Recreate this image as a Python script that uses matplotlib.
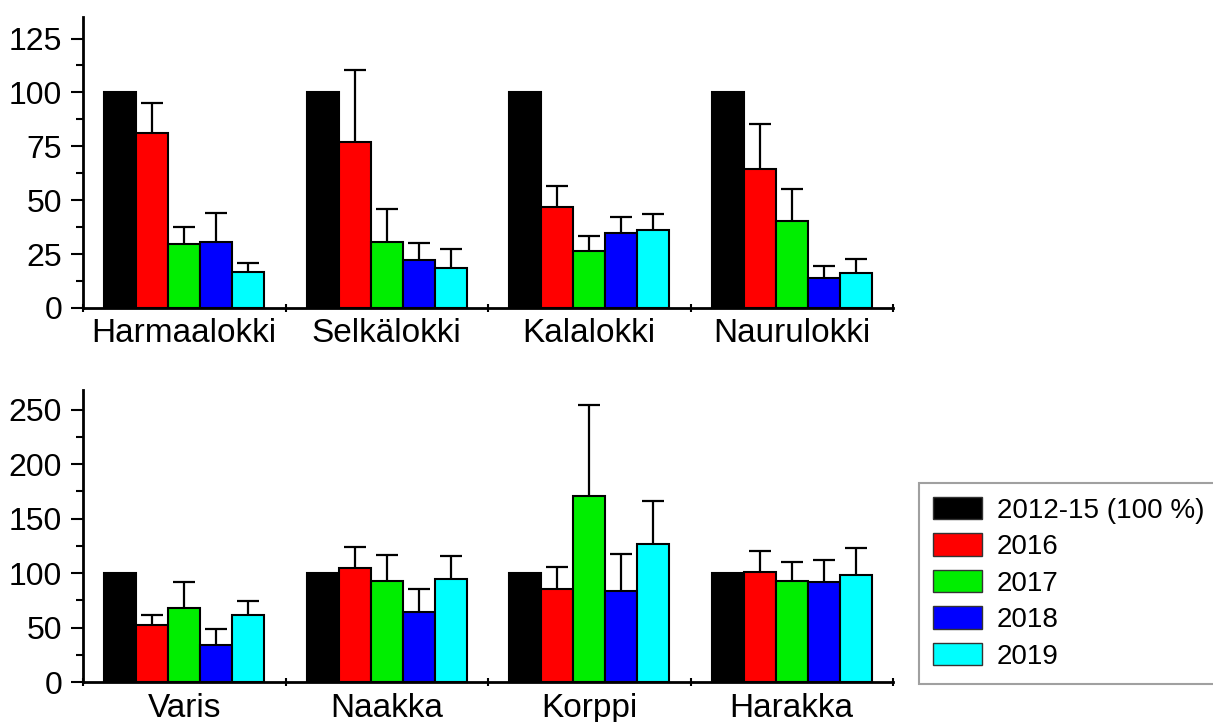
import matplotlib
matplotlib.use("Agg")
import matplotlib.pyplot as plt
import numpy as np
from matplotlib.patches import Patch
from matplotlib.ticker import MultipleLocator, FixedLocator

plt.rcParams['font.family'] = ['Liberation Sans', 'DejaVu Sans']

series = ["2012-15 (100 %)", "2016", "2017", "2018", "2019"]
colors = ["#000000", "#FF0000", "#00EE00", "#0000FF", "#00FFFF"]

top_cats = ["Harmaalokki", "Selkälokki", "Kalalokki", "Naurulokki"]
top_vals = {
    "2012-15 (100 %)": [100, 100, 100, 100],
    "2016": [81.3, 77.0, 46.9, 64.4],
    "2017": [29.5, 30.7, 26.5, 40.3],
    "2018": [30.7, 22.2, 34.6, 13.7],
    "2019": [16.8, 18.4, 36.1, 16.4],
}
top_errs = {
    "2012-15 (100 %)": [0, 0, 0, 0],
    "2016": [13.9, 33.5, 9.6, 21.1],
    "2017": [8.1, 15.0, 7.0, 14.8],
    "2018": [13.6, 7.8, 7.7, 5.7],
    "2019": [3.9, 9.2, 7.6, 6.1],
}

bot_cats = ["Varis", "Naakka", "Korppi", "Harakka"]
bot_vals = {
    "2012-15 (100 %)": [100, 100, 100, 100],
    "2016": [51.9, 104.2, 85.3, 100.9],
    "2017": [68.2, 92.6, 170.3, 92.3],
    "2018": [33.6, 63.9, 83.1, 91.4],
    "2019": [61.7, 94.8, 126.6, 97.8],
}
bot_errs = {
    "2012-15 (100 %)": [0, 0, 0, 0],
    "2016": [9.5, 19.7, 19.9, 18.9],
    "2017": [23.2, 24.2, 84.1, 17.8],
    "2018": [15.0, 21.4, 34.3, 20.8],
    "2019": [12.9, 21.1, 39.1, 25.1],
}

fig = plt.figure(figsize=(12.13, 7.22), dpi=100)
W, H = 1213, 722
ax_top = fig.add_axes([83 / W, 1 - 308 / H, (893 - 83) / W, (308 - 17) / H])
ax_bot = fig.add_axes([83 / W, 1 - 682 / H, (893 - 83) / W, (682 - 390) / H])

bw = 0.158

def draw(ax, cats, vals, errs, ymax, major, minor, lpad):
    x = np.arange(len(cats))
    for i, s in enumerate(series):
        xs = x + (i - 2) * bw
        ax.bar(xs, vals[s], width=bw, color=colors[i], edgecolor="black",
               linewidth=1.5, zorder=3)
        e = np.array(errs[s])
        if e.sum() > 0:
            ax.errorbar(xs, vals[s], yerr=e, fmt="none", ecolor="black",
                        elinewidth=1.6, capsize=8, capthick=1.6, zorder=2)
    ax.set_xlim(-0.5, len(cats) - 0.5)
    ax.set_ylim(0, ymax)
    ax.set_xticks(x)
    ax.set_xticklabels(cats, fontsize=24)
    ax.xaxis.set_minor_locator(FixedLocator(np.arange(-0.5, len(cats), 1.0)))
    ax.tick_params(axis="x", which="major", length=0, pad=lpad)
    ax.tick_params(axis="x", which="minor", length=6, width=1.5, direction="inout")
    ax.yaxis.set_major_locator(MultipleLocator(major))
    ax.yaxis.set_minor_locator(MultipleLocator(minor))
    ax.tick_params(axis="y", which="major", length=9, width=1.5, labelsize=23, pad=6)
    ax.tick_params(axis="y", which="minor", length=5, width=1.5)
    for sp in ["top", "right"]:
        ax.spines[sp].set_visible(False)
    for sp in ["left", "bottom"]:
        ax.spines[sp].set_linewidth(2)

draw(ax_top, top_cats, top_vals, top_errs, 135, 25, 12.5, 7)
draw(ax_bot, bot_cats, bot_vals, bot_errs, 268, 50, 25, 8)

handles = [Patch(facecolor=c, edgecolor="#333333", linewidth=1) for c in colors]
leg = fig.legend(handles, series, loc="upper left",
                 bbox_to_anchor=(919 / W, 1 - 483 / H), fontsize=20,
                 frameon=True, fancybox=False, edgecolor="#888888",
                 handlelength=1.76, handleheight=0.86, handletextpad=0.55,
                 labelspacing=0.35, borderpad=0.5, borderaxespad=0)
leg.get_frame().set_linewidth(1.5)

fig.savefig("out.png", dpi=100)
